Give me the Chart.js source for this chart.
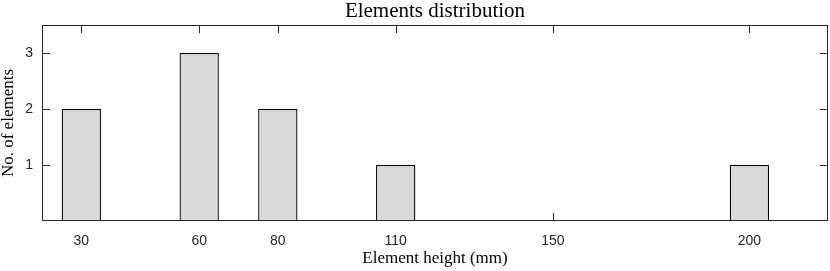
<!DOCTYPE html>
<html>
<head>
<meta charset="utf-8">
<script src="https://cdn.jsdelivr.net/npm/chart.js@4"></script>
<style>
  html, body { margin: 0; padding: 0; background: #fff; }
  #wrap { width: 830px; height: 271px; }
</style>
</head>
<body>
<div id="wrap"><canvas id="chart"></canvas></div>
<script>
// values
const heights = [30, 60, 80, 110, 200];
const counts = [2, 3, 2, 1, 1];
const xTickValues = [30, 60, 80, 110, 150, 200];
const yTickValues = [1, 2, 3];

const axisColor = '#262626';

// box around the plot and inward tick marks on all four sides
const boxTicks = {
  id: 'boxTicks',
  beforeDatasetsDraw(chart) {
    const ctx = chart.ctx;
    const area = chart.chartArea;
    const xs = chart.scales.x, ys = chart.scales.y;
    const len = 8;
    ctx.save();
    ctx.strokeStyle = axisColor;
    ctx.lineWidth = 1;
    ctx.beginPath();
    xTickValues.forEach(v => {
      const px = Math.round(xs.getPixelForValue(v)) + 0.5;
      ctx.moveTo(px, area.bottom);
      ctx.lineTo(px, area.bottom - len);
      ctx.moveTo(px, area.top);
      ctx.lineTo(px, area.top + len);
    });
    yTickValues.forEach(v => {
      const py = Math.round(ys.getPixelForValue(v)) + 0.5;
      ctx.moveTo(area.left, py);
      ctx.lineTo(area.left + len, py);
      ctx.moveTo(area.right, py);
      ctx.lineTo(area.right - len, py);
    });
    ctx.stroke();
    ctx.restore();
  },
  afterDatasetsDraw(chart) {
    const ctx = chart.ctx;
    const a = chart.chartArea;
    ctx.save();
    ctx.strokeStyle = axisColor;
    ctx.lineWidth = 1;
    const l = Math.round(a.left) + 0.5, r = Math.round(a.right) - 0.5;
    const t = Math.round(a.top) + 0.5, b = Math.round(a.bottom) - 0.5;
    ctx.strokeRect(l, t, r - l, b - t);
    ctx.restore();
  }
};

const ctx = document.getElementById('chart').getContext('2d');
const chart = new Chart(ctx, {
  type: 'bar',
  data: {
    datasets: [{
      data: heights.map((h, i) => ({ x: h, y: counts[i] })),
      backgroundColor: '#d9d9d9',
      borderColor: '#000000',
      borderWidth: 1.3,
      categoryPercentage: 0.5,
      barPercentage: 1
    }]
  },
  options: {
    responsive: true,
    maintainAspectRatio: false,
    animation: false,
    layout: { padding: { left: 0, right: 2, top: 0, bottom: 0 } },
    plugins: {
      legend: { display: false },
      tooltip: { enabled: false },
      title: {
        display: true,
        text: 'Elements distribution',
        fullSize: false,
        color: '#000',
        font: { family: 'Liberation Serif', size: 21, weight: 'normal', lineHeight: 1.05 },
        padding: { top: 0, bottom: 3 }
      }
    },
    scales: {
      x: {
        type: 'linear',
        min: 20,
        max: 220,
        offset: false,
        afterBuildTicks(scale) {
          scale.ticks = xTickValues.map(v => ({ value: v }));
        },
        afterFit(scale) { scale.height = 50; },
        grid: { display: false, drawTicks: false, offset: false },
        border: { display: false },
        ticks: {
          color: axisColor,
          padding: 12,
          maxRotation: 0,
          font: { family: 'Liberation Sans', size: 14 }
        },
        title: {
          display: true,
          text: 'Element height (mm)',
          color: '#000',
          font: { family: 'Liberation Serif', size: 17, lineHeight: 1 },
          padding: { top: 0, bottom: 4 }
        }
      },
      y: {
        min: 0,
        max: 3.5,
        afterBuildTicks(scale) {
          scale.ticks = yTickValues.map(v => ({ value: v }));
        },
        afterFit(scale) { scale.width = 42; },
        grid: { display: false, drawTicks: false },
        border: { display: false },
        ticks: {
          color: axisColor,
          padding: 9,
          font: { family: 'Liberation Sans', size: 14 }
        },
        title: {
          display: true,
          text: 'No. of elements',
          color: '#000',
          font: { family: 'Liberation Serif', size: 17, lineHeight: 1 },
          padding: { top: 0, bottom: 0 }
        }
      }
    }
  },
  plugins: [boxTicks]
});
</script>
</body>
</html>
